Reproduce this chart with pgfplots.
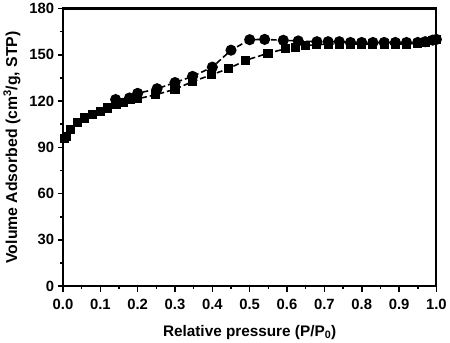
\documentclass[border=0pt]{standalone}
\usepackage{pgfplots}
\pgfplotsset{compat=1.18}
\usepackage{fontspec}
\setmainfont{Liberation Sans}
\begin{document}
\begin{tikzpicture}
\begin{axis}[
  scale only axis, width=378pt, height=281pt,
  xmin=0, xmax=1.0, ymin=0, ymax=180,
  xtick={0,0.1,...,1.0}, ytick={0,30,...,180},
  minor x tick num=1, minor y tick num=1,
  xticklabel style={yshift=-4pt, /pgf/number format/.cd,fixed,fixed zerofill,precision=1},
  /pgf/number format/assume math mode=true,
  ticklabel style={font=\bfseries\fontsize{15}{17}\selectfont},
  yticklabel style={xshift=0pt},
  tick align=outside, tick pos=left,
  major tick length=5.5pt, minor tick length=3pt,
  every tick/.style={black, line width=1.6pt},
  axis line style={line width=2.2pt},
  xlabel={\bfseries Relative pressure (P/P$_{\mathbf 0}$)},
  ylabel={\bfseries Volume Adsorbed (cm$^{\mathbf 3}$/g, STP)},
  xlabel style={font=\bfseries\fontsize{15.5}{17}\selectfont, yshift=-9pt},
  ylabel style={font=\bfseries\fontsize{16}{18}\selectfont, yshift=2pt},
]
\addplot[black, line width=1.6pt, dash pattern=on 6pt off 3pt, mark=square*, mark size=3.8pt, mark options={solid}] coordinates {
(0.005,96) (0.01,97) (0.02,101.5) (0.04,106) (0.058,109) (0.079,111) (0.10,113) (0.12,115.5)
(0.142,117.6) (0.162,119) (0.18,121) (0.20,121.5) (0.247,124) (0.30,127.7) (0.347,132.6)
(0.397,137) (0.443,141) (0.49,146.5) (0.549,151) (0.597,154) (0.623,155) (0.65,156)
(0.68,156.5) (0.71,157) (0.74,157) (0.77,157) (0.80,157) (0.83,157) (0.86,157) (0.89,157)
(0.92,157) (0.95,157.5) (0.97,158) (0.99,159) (1.0,160)
};
\addplot[black, line width=1.6pt, dash pattern=on 6pt off 3pt, mark=*, mark size=4.8pt, mark options={solid}] coordinates {
(1.0,160) (0.99,159.5) (0.97,158.5) (0.95,158) (0.92,158) (0.89,158) (0.86,158) (0.83,158)
(0.80,158) (0.77,158) (0.74,158.5) (0.71,158.5) (0.68,158.5) (0.63,159) (0.59,159.4)
(0.54,160) (0.50,159.8) (0.45,153) (0.40,142) (0.347,136) (0.30,132) (0.252,128) (0.20,125)
(0.178,122) (0.141,121)
};
\end{axis}
\end{tikzpicture}
\end{document}
